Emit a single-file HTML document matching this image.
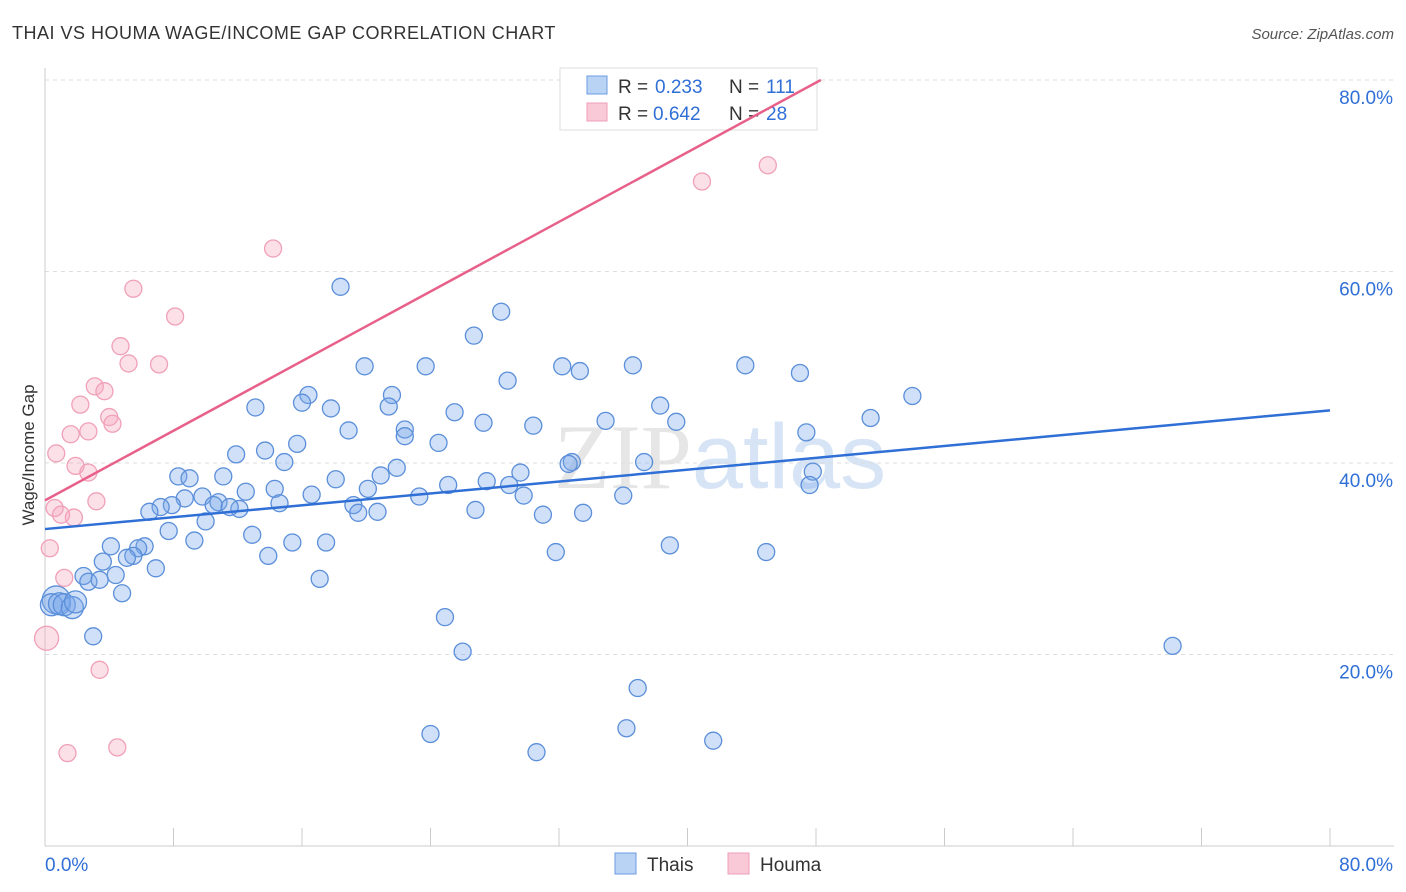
<!DOCTYPE html>
<html><head><meta charset="utf-8"><style>
body{margin:0;background:#fff;font-family:"Liberation Sans",sans-serif;}
svg{display:block}
</style></head><body>
<svg id="chart" width="1406" height="892">
<text x="12" y="39" font-size="18" letter-spacing="0.5" fill="#333">THAI VS HOUMA WAGE/INCOME GAP CORRELATION CHART</text>
<text x="1394" y="39" font-size="15" fill="#555" font-style="italic" text-anchor="end">Source: ZipAtlas.com</text>
<text x="720" y="488" font-size="92" fill="#e6e6e6" text-anchor="middle" font-family="Liberation Serif,serif">ZIP<tspan fill="#d6e4f5" font-family="Liberation Sans,sans-serif">atlas</tspan></text>
<text transform="translate(34,455) rotate(-90)" font-size="17" fill="#333" text-anchor="middle">Wage/Income Gap</text>
<g id="grid"></g><g id="marks"></g>
<g>
<rect x="560" y="68" width="257" height="62" fill="#fff" stroke="#ddd"/>
<rect x="587" y="76" width="20" height="18" fill="#b9d3f5" stroke="#6b9be0"/>
<rect x="587" y="103" width="20" height="18" fill="#f9c9d8" stroke="#ef9db8"/>
<text x="618" y="93" font-size="19" fill="#333">R =</text>
<text x="655" y="93" font-size="19" fill="#2f6fd6">0.233</text>
<text x="729" y="93" font-size="19" fill="#333">N =</text>
<text x="766" y="93" font-size="19" fill="#2f6fd6">111</text>
<text x="618" y="120" font-size="19" fill="#333">R =</text>
<text x="653" y="120" font-size="19" fill="#2f6fd6">0.642</text>
<text x="729" y="120" font-size="19" fill="#333">N =</text>
<text x="766" y="120" font-size="19" fill="#2f6fd6">28</text>
</g>
<g id="lines"></g>
<g>
<rect x="615" y="853" width="21" height="21" fill="#b9d3f5" stroke="#6b9be0"/>
<text x="647" y="871" font-size="19" fill="#333">Thais</text>
<rect x="728" y="853" width="21" height="21" fill="#f9c9d8" stroke="#ef9db8"/>
<text x="760" y="871" font-size="19" fill="#333">Houma</text>
</g>
</svg>
<script>
const xTicks=[0,80];
const yTicks=[20,40,60,80];
const thaiX=[18.4,28.4,26.7,19.9,23.7,32.2,36.6,43.6,33.3,47.0,28.8,16.4,21.6,54.0,13.1,16.0,17.8,21.4,38.3,25.5,34.9,51.4,27.3,30.4,39.3,18.9,22.4,22.4,47.4,15.7,24.5,13.7,11.9,14.9,32.8,32.6,37.3,21.9,8.3,9.0,11.1,20.9,18.1,27.5,29.6,47.8,25.1,47.6,28.9,14.3,12.5,20.1,16.6,9.8,8.7,23.3,29.8,36.0,10.8,10.5,14.6,19.2,7.9,7.2,6.5,12.1,11.5,19.5,20.7,26.8,31.0,33.5,10.0,7.7,12.9,9.3,15.4,17.5,38.9,44.9,31.8,13.9,4.1,6.2,5.8,5.5,3.6,5.1,6.9,2.4,4.4,2.7,3.4,4.8,17.1,0.7,0.4,0.9,1.2,1.7,1.9,3.0,24.9,26.0,70.2,36.9,24.0,36.2,41.6,30.6];
const thaiY=[58.4,55.8,53.3,50.1,50.1,50.1,50.2,50.2,49.6,49.4,48.6,47.1,47.1,47.0,45.8,46.3,45.7,45.9,46.0,45.3,44.4,44.7,44.2,43.9,44.3,43.4,43.5,42.8,43.2,42.0,42.1,41.3,40.9,40.1,40.1,39.9,40.1,39.5,38.6,38.4,38.6,38.7,38.3,38.1,39.0,39.1,37.7,37.7,37.7,37.3,37.0,37.3,36.7,36.5,36.3,36.5,36.6,36.6,35.9,35.6,35.8,35.6,35.6,35.4,34.9,35.2,35.4,34.8,34.9,35.1,34.6,34.8,33.9,32.9,32.5,31.9,31.7,31.7,31.4,30.7,30.7,30.3,31.3,31.3,31.1,30.3,29.7,30.1,29.0,28.2,28.3,27.6,27.8,26.4,27.9,25.7,25.2,25.3,25.2,24.9,25.5,21.9,23.9,20.3,20.9,16.5,11.7,12.3,11.0,9.8];
const houmaX=[0.3,0.7,0.6,1.6,2.2,1.9,1.0,2.7,1.8,2.7,3.1,3.7,4.0,4.2,3.2,4.7,5.2,5.5,7.1,8.1,14.2,40.9,45.0,0.1,1.2,3.4,1.4,4.5];
const houmaY=[31.1,41.0,35.3,43.0,46.1,39.7,34.6,39.0,34.3,43.3,48.0,47.5,44.8,44.1,36.0,52.2,50.4,58.2,50.3,55.3,62.4,69.4,71.1,21.7,28.0,18.4,9.7,10.3];
const thaiTrend=[33.1,45.5];
const houmaTrend=[36.1,80];
const xs=v=>45+v*(1285/80), ys=v=>846-v*(766/80);
const NS='http://www.w3.org/2000/svg';
function mk(t,a,p){const e=document.createElementNS(NS,t);for(const k in a)e.setAttribute(k,a[k]);p.appendChild(e);return e;}
const grid=document.getElementById('grid');
yTicks.forEach(t=>{
 const l=mk('line',{x1:45,x2:1394,y1:ys(t),y2:ys(t),stroke:'#ddd','stroke-dasharray':'4,4'},grid);
 
 
 const tx=mk('text',{x:1393,y:ys(t)+24,'font-size':19,fill:'#2f6fd6','text-anchor':'end'},grid);
 tx.textContent=t.toFixed(1)+'%';
 
 
});
mk('line',{x1:45,x2:45,y1:68,y2:846,stroke:'#ccc'},grid);
mk('line',{x1:45,x2:1394,y1:846,y2:846,stroke:'#ccc'},grid);
for(let i=0;i<=10;i++){const x=xs(i*8);mk('line',{x1:x,x2:x,y1:828,y2:846,stroke:'#ccc'},grid);}
xTicks.forEach((t,i)=>{
 const tx=mk('text',{x:i?1393:45,y:871,'font-size':19,fill:'#2f6fd6','text-anchor':i?'end':'start'},grid);
 tx.textContent=t.toFixed(1)+'%';
 
 
});
const marks=document.getElementById('marks');
thaiX.forEach((v,i)=>{
 const r=i>=95&&i<=100?(i==95?14:11):8.5;
 const c=mk('circle',{cx:xs(v),cy:ys(thaiY[i]),r:r,fill:'rgba(120,165,235,0.35)',stroke:'#5b8fd9','stroke-width':1.3},marks);
 
 
});
houmaX.forEach((v,i)=>{
 const r=i==23?12:8.5;
 const c=mk('circle',{cx:xs(v),cy:ys(houmaY[i]),r:r,fill:'rgba(245,165,190,0.35)',stroke:'#f0a0b8','stroke-width':1.3},marks);
 
 
});
const lines=document.getElementById('lines');
const tl=mk('line',{x1:xs(0),y1:ys(thaiTrend[0]),x2:xs(80),y2:ys(thaiTrend[1]),stroke:'#2f6fd6','stroke-width':2.5},lines);


const hl=mk('line',{x1:xs(0),y1:ys(houmaTrend[0]),x2:xs(48.3),y2:ys(houmaTrend[1]),stroke:'#e8608a','stroke-width':2.5},lines);


</script>
</body></html>
